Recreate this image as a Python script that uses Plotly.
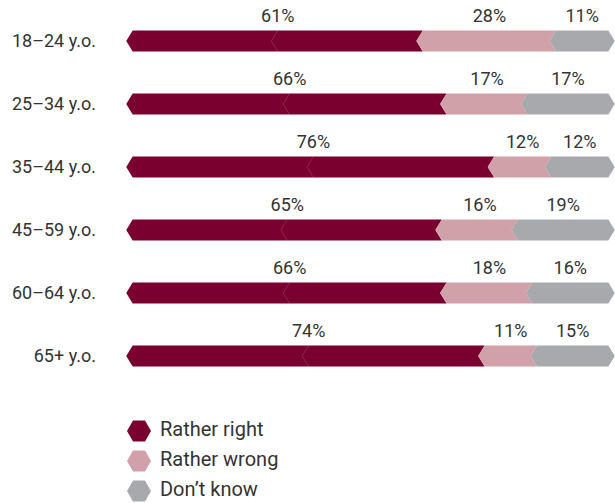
import plotly.graph_objects as go

categories = ["18–24 y.o.", "25–34 y.o.", "35–44 y.o.", "45–59 y.o.", "60–64 y.o.", "65+ y.o."]
series_names = ["Rather right", "Rather wrong", "Don’t know"]
rather_right = [61, 66, 76, 65, 66, 74]
rather_wrong = [28, 17, 12, 16, 18, 11]
dont_know = [11, 17, 12, 19, 16, 15]
colors = ["#7A0030", "#D1A1AA", "#A8A9AD"]

series = [rather_right, rather_wrong, dont_know]
n_rows = len(categories)
ypos = list(range(n_rows))
h = 0.335   # bar thickness in y units
d = 1.35    # chevron depth in x units

W, H = 615, 503
main_bottom_px = 390
split = (H - main_bottom_px) / H

fig = go.Figure()

label_x, label_y, label_t = [], [], []
for k, vals in enumerate(series):
    xs, ys, lx, ly = [], [], [], []
    for i in ypos:
        s = sum(series[j][i] for j in range(k))
        e = s + vals[i]
        last = (k == len(series) - 1)
        top, bot = i - h / 2, i + h / 2
        tip = e + d if last else e - d
        xs += [s, e, tip, e, s, s - d, s, None]
        ys += [top, top, i, bot, bot, i, top, None]
        m = (s + e) / 2
        lx += [m, m - d, m, None]
        ly += [top, i, bot, None]
        label_x.append(m)
        label_y.append(i - 0.37)
        label_t.append(f"{vals[i]}%")
    fig.add_trace(go.Scatter(x=xs, y=ys, mode="lines", fill="toself",
                             fillcolor=colors[k], line=dict(width=0, color=colors[k]),
                             hoverinfo="skip", showlegend=False))
    if k == 0:
        fig.add_trace(go.Scatter(x=lx, y=ly, mode="lines",
                                 line=dict(width=1, color="rgba(255,255,255,0.15)"),
                                 hoverinfo="skip", showlegend=False))

fig.add_trace(go.Scatter(x=label_x, y=label_y, mode="text", text=label_t,
                         textposition="middle center",
                         textfont=dict(size=18, color="#333333", family="Roboto"),
                         hoverinfo="skip", showlegend=False))

# legend drawn on a second pair of axes below the chart (pixel units)
legend_x = 139
legend_y0 = 431
legend_step = 30
for k, name in enumerate(series_names):
    yk = legend_y0 + k * legend_step
    fig.add_trace(go.Scatter(x=[legend_x], y=[yk], mode="markers+text", name=name,
                             text=[" " + name], textposition="middle right",
                             textfont=dict(size=20, color="#333333", family="Roboto"),
                             marker=dict(symbol="hexagon2", size=24, color=colors[k]),
                             xaxis="x2", yaxis="y2", hoverinfo="skip", showlegend=False,
                             cliponaxis=False))

fig.update_layout(
    width=W, height=H,
    margin=dict(l=126, r=0, t=0, b=0),
    paper_bgcolor="white", plot_bgcolor="white",
    font=dict(family="Roboto", color="#333333"),
    xaxis=dict(range=[-1.4, 101.4], visible=False, fixedrange=True),
    yaxis=dict(range=[5.54, -0.651], domain=[split, 1], tickvals=ypos, ticktext=categories,
               showgrid=False, zeroline=False, showline=False, ticks="",
               automargin=False,
               ticklabelstandoff=29, tickfont=dict(size=18, color="#333333")),
    xaxis2=dict(range=[126, W], domain=[0, 1], anchor="y2", visible=False),
    yaxis2=dict(range=[H, main_bottom_px], domain=[0, split], anchor="x2", visible=False),
    showlegend=False,
)

fig.write_html("out.html", config={"displayModeBar": False},
               post_script="document.body.style.margin='0px';")
